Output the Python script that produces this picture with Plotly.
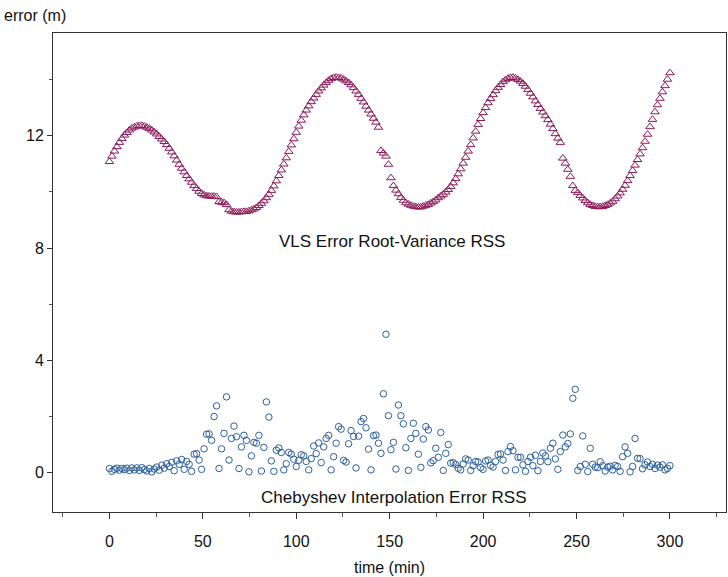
import numpy as np
import plotly.graph_objects as go

# time step of 80 s (4/3 min), 0 .. 300 min
time_min = [round(k * 4 / 3, 4) for k in range(226)]

vls_rss = [
    11.08, 11.27, 11.45, 11.61, 11.76, 11.90, 12.02, 12.11, 12.20, 12.27,
    12.31, 12.34, 12.36, 12.36, 12.34, 12.30, 12.26, 12.20, 12.13, 12.06,
    11.97, 11.88, 11.79, 11.68, 11.55, 11.42, 11.28, 11.13, 10.98, 10.84,
    10.71, 10.58, 10.46, 10.34, 10.22, 10.12, 10.02, 9.94, 9.89, 9.86,
    9.85, 9.84, 9.84, 9.83, 9.65, 9.63, 9.61, 9.55, 9.36, 9.31,
    9.29, 9.28, 9.28, 9.29, 9.30, 9.30, 9.32, 9.36, 9.39, 9.44,
    9.51, 9.59, 9.68, 9.79, 9.91, 10.05, 10.21, 10.39, 10.58, 10.78,
    10.99, 11.21, 11.44, 11.67, 11.89, 12.12, 12.34, 12.55, 12.74, 12.91,
    13.06, 13.21, 13.34, 13.47, 13.59, 13.70, 13.80, 13.89, 13.97, 14.03,
    14.07, 14.08, 14.07, 14.05, 14.01, 13.95, 13.89, 13.81, 13.71, 13.59,
    13.47, 13.33, 13.20, 13.05, 12.91, 12.77, 12.62, 12.48, 12.30, 11.47,
    11.38, 11.27, 10.98, 10.50, 10.22, 10.06, 9.93, 9.80, 9.70, 9.61,
    9.56, 9.52, 9.49, 9.47, 9.46, 9.46, 9.49, 9.52, 9.55, 9.60,
    9.65, 9.71, 9.79, 9.85, 9.91, 9.99, 10.08, 10.19, 10.32, 10.47,
    10.64, 10.82, 11.02, 11.23, 11.45, 11.68, 11.92, 12.16, 12.40, 12.61,
    12.82, 13.00, 13.17, 13.32, 13.46, 13.60, 13.72, 13.82, 13.92, 13.99,
    14.04, 14.07, 14.08, 14.05, 14.00, 13.94, 13.86, 13.76, 13.64, 13.51,
    13.38, 13.24, 13.11, 12.97, 12.84, 12.71, 12.57, 12.41, 12.25, 12.07,
    11.91, 11.76, 11.20, 11.02, 10.80, 10.55, 10.22, 10.05, 9.97, 9.87,
    9.78, 9.69, 9.61, 9.55, 9.51, 9.48, 9.47, 9.47, 9.48, 9.51,
    9.55, 9.60, 9.66, 9.75, 9.85, 9.96, 10.09, 10.23, 10.40, 10.58,
    10.76, 10.95, 11.15, 11.35, 11.57, 11.80, 12.05, 12.32, 12.58, 12.85,
    13.10, 13.33, 13.56, 13.78, 14.01, 14.24,
]

cheb_rss = [
    0.15, 0.05, 0.12, 0.16, 0.09, 0.15, 0.11, 0.16, 0.08, 0.17,
    0.10, 0.17, 0.08, 0.18, 0.11, 0.06, 0.15, 0.03, 0.13, 0.20,
    0.09, 0.27, 0.16, 0.32, 0.22, 0.37, 0.07, 0.42, 0.30, 0.47,
    0.12, 0.40, 0.30, 0.05, 0.66, 0.68, 0.45, 0.12, 0.85, 1.37,
    1.38, 1.15, 2.00, 2.38, 0.15, 0.85, 1.40, 2.70, 0.45, 1.22,
    1.66, 1.28, 0.15, 0.92, 1.33, 1.15, 0.03, 0.60, 1.08, 1.05,
    1.33, 0.06, 0.90, 2.52, 1.98, 0.42, 0.05, 0.80, 0.88, 0.72,
    0.10, 0.32, 0.72, 0.66, 0.48, 0.22, 0.44, 0.64, 0.60, 0.40,
    0.10, 0.50, 0.95, 0.68, 1.06, 0.36, 0.92, 1.22, 1.33, 0.10,
    0.57, 1.05, 1.64, 1.55, 0.44, 0.38, 1.03, 1.50, 1.29, 0.17,
    1.30, 1.82, 1.93, 1.60, 0.84, 0.10, 1.32, 1.34, 1.05, 0.69,
    2.81, 4.93, 2.03, 0.82, 1.08, 0.13, 2.41, 2.03, 1.74, 0.89,
    0.08, 1.22, 1.76, 1.40, 0.66, 0.19, 1.20, 1.64, 1.52, 0.35,
    0.43, 0.87, 0.55, 1.43, 0.08, 0.69, 1.00, 0.34, 0.36, 0.29,
    0.16, 0.10, 0.31, 0.49, 0.45, 0.08, 0.25, 0.40, 0.38, 0.18,
    0.12, 0.42, 0.45, 0.26, 0.20, 0.40, 0.65, 0.67, 0.45, 0.08,
    0.75, 0.93, 0.78, 0.10, 0.55, 0.55, 0.28, 0.05, 0.40, 0.55,
    0.25, 0.62, 0.07, 0.40, 0.70, 0.60, 0.39, 0.87, 1.05, 0.49,
    0.12, 0.75, 1.34, 0.92, 1.04, 1.38, 2.65, 2.97, 0.08, 0.22,
    1.31, 0.30, 0.04, 0.87, 0.30, 0.20, 0.18, 0.39, 0.25, 0.06,
    0.20, 0.23, 0.10, 0.26, 0.22, 0.05, 0.57, 0.92, 0.69, 0.03,
    0.22, 1.22, 0.51, 0.50, 0.14, 0.28, 0.38, 0.22, 0.30, 0.15,
    0.27, 0.20, 0.28, 0.10, 0.15, 0.25,
]

x_ticks = [0, 50, 100, 150, 200, 250, 300]
y_ticks = [0, 4, 8, 12]

FONT = "Liberation Sans, Arial, sans-serif"
MAROON = "#8b1a58"
BLUE = "#2b5f9e"

fig = go.Figure()
fig.add_trace(go.Scatter(
    x=time_min, y=vls_rss, mode="markers",
    marker=dict(symbol="triangle-up-open", size=7.5, color=MAROON,
                line=dict(width=1, color=MAROON)),
    showlegend=False,
))
fig.add_trace(go.Scatter(
    x=time_min, y=cheb_rss, mode="markers",
    marker=dict(symbol="circle-open", size=6.5, color=BLUE,
                line=dict(width=1, color=BLUE)),
    showlegend=False,
))

axis_common = dict(
    showgrid=False, zeroline=False, showline=True, linecolor="#333333",
    linewidth=1, mirror=True, ticks="outside", tickcolor="#333333",
    tickfont=dict(family=FONT, size=16, color="#111111"),
)

fig.update_xaxes(
    range=[-30.2, 330], tickvals=x_ticks, ticklen=6, tickwidth=1,
    ticklabelstandoff=9,
    minor=dict(dtick=25, tick0=0, ticks="outside", ticklen=4,
               tickcolor="#555555", showgrid=False),
    title=dict(text="time (min)", font=dict(family=FONT, size=16, color="#111111"),
               standoff=12),
    **axis_common,
)
fig.update_yaxes(
    range=[-1.40, 15.66], tickvals=y_ticks, ticklen=5, tickwidth=1,
    minor=dict(dtick=2, tick0=0, ticks="outside", ticklen=3,
               tickcolor="#555555", showgrid=False),
    **axis_common,
)

fig.add_annotation(text="error (m)", xref="paper", yref="paper",
                   x=-0.0758, y=1.0355, xanchor="left", yanchor="middle",
                   showarrow=False, font=dict(family=FONT, size=16, color="#111111"))
fig.add_annotation(text="VLS Error Root-Variance RSS", xref="x", yref="y",
                   x=151.2, y=8.23, showarrow=False,
                   font=dict(family=FONT, size=17, color="#111111"))
fig.add_annotation(text="Chebyshev Interpolation Error RSS", xref="x", yref="y",
                   x=152.2, y=-0.88, showarrow=False,
                   font=dict(family=FONT, size=17, color="#111111"))

fig.update_layout(
    width=728, height=577,
    margin=dict(l=53, r=2, t=33, b=65),
    paper_bgcolor="white", plot_bgcolor="white",
    font=dict(family=FONT, color="#111111"),
)

fig.write_html("out.html", config={"displayModeBar": False},
               post_script="document.body.style.margin='0';document.body.style.padding='0';")
